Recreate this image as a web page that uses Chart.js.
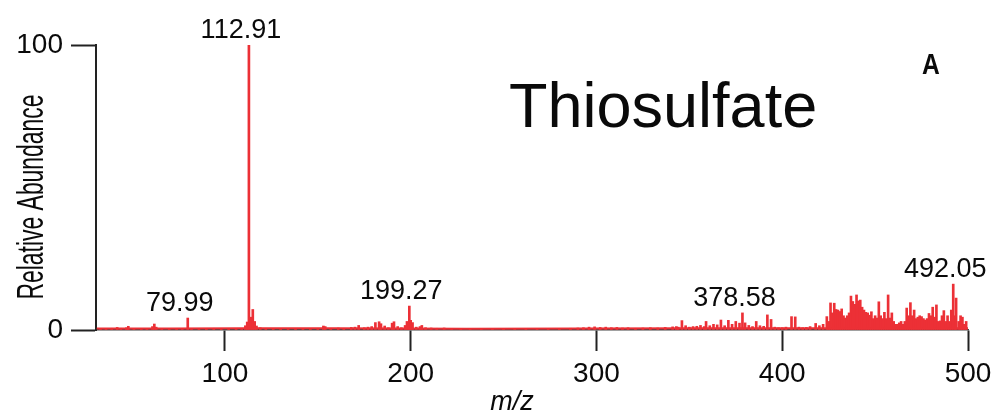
<!DOCTYPE html>
<html>
<head>
<meta charset="utf-8">
<script src="https://cdn.jsdelivr.net/npm/chart.js@4.4.1/dist/chart.umd.min.js"></script>
<style>
  html, body { margin: 0; padding: 0; background: #fff; }
  #wrap { width: 994px; height: 412px; position: relative; }
</style>
</head>
<body>
<div id="wrap"><canvas id="chart" aria-label="Thiosulfate mass spectrum" role="img"></canvas></div>
<script>
// m/z of each stick and its relative abundance
const peakMz = [
  33, 36, 39, 42, 44, 47, 48, 51, 55, 58, 61, 62, 63, 66, 70, 74, 77, 79.99, 82, 86, 90, 94, 98, 102, 106, 109,
  111, 112, 112.91, 114, 115, 116, 117, 119, 122,
  126, 130, 134, 138, 142, 146, 150, 153, 154, 157, 161, 164, 168, 170, 172, 175, 177, 179, 181, 183, 184, 186,
  188, 190, 191, 193, 195, 197, 198, 199.27, 200, 201, 203, 205, 206, 208, 211, 214, 218, 222, 227, 232, 238,
  244, 250, 256, 262, 268, 274, 280, 286, 290, 293, 296, 299, 302, 305, 308, 311, 314, 317, 321, 325, 329, 333,
  337, 341,
  343, 344, 346, 348, 350, 352, 354, 356, 358, 359, 361, 363, 365, 367, 369, 371, 373, 375, 377, 378.58, 380,
  382, 384, 386, 388, 390, 392, 394, 396, 398, 400, 402, 405, 407, 409, 411, 413, 415, 418, 420, 422, 424,
  425, 426, 427, 428, 429, 430, 431, 432, 433, 434, 435, 436, 437, 438, 439, 440, 441, 442, 443, 444, 445, 446,
  447, 448, 449, 450, 451, 452, 453, 454, 455, 456, 457, 458, 459, 460, 461, 462, 463, 464, 465, 466, 467, 468,
  469, 470, 471, 472, 473, 474, 475, 476, 477, 478, 479, 480, 481, 482, 483, 484, 485, 486, 487, 488, 489, 490,
  491, 492.05, 493, 493.6, 495, 496, 497, 498, 499,
];
const peakAbundance = [
  0.4, 0.5, 0.6, 0.9, 0.6, 0.8, 1.3, 0.5, 0.4, 0.5, 1.2, 2.1, 1.0, 0.5, 0.5, 0.4, 0.5, 4.2, 0.5, 0.4, 0.5, 0.6, 0.5, 0.4, 0.5, 0.6,
  1.5, 2.8, 100, 4.5, 7.2, 3.0, 1.4, 0.8, 0.6,
  0.5, 0.4, 0.5, 0.4, 0.5, 0.4, 0.6, 1.4, 1.2, 0.6, 0.7, 0.6, 0.9, 1.0, 1.6, 0.8, 1.0, 1.2, 2.6, 2.9, 2.2, 1.4,
  0.8, 2.4, 2.9, 1.2, 0.8, 1.6, 3.0, 8.4, 3.4, 2.6, 1.0, 1.2, 1.6, 0.8, 0.7, 0.6, 0.7, 0.5, 0.4, 0.4, 0.3,
  0.4, 0.3, 0.4, 0.3, 0.4, 0.4, 0.5, 0.6, 0.7, 0.8, 1.0, 1.1, 0.9, 1.0, 0.8, 0.9, 0.7, 0.8, 0.6, 0.7, 0.8, 0.7,
  0.9, 1.1,
  1.2, 1.0, 3.3, 1.5, 1.0, 1.2, 1.3, 1.6, 1.2, 3.0, 1.5, 2.0, 1.8, 3.5, 1.5, 3.4, 2.0, 3.0, 2.4, 6.0, 2.5,
  1.6, 1.2, 3.0, 1.5, 1.3, 5.3, 3.7, 1.0, 0.8, 0.8, 1.0, 4.7, 4.6, 1.0, 0.8, 0.9, 1.2, 2.3, 1.5, 2.0, 4.7,
  3.0, 9.5, 6.0, 9.4, 7.2, 7.0, 6.5, 7.4, 5.0, 4.2, 5.0, 6.0, 11.9, 10.0, 9.0, 12.3, 10.2, 10.5, 8.0, 7.0, 6.2, 6.0,
  5.2, 6.4, 4.0, 5.0, 4.2, 9.9, 5.0, 4.0, 6.2, 4.0, 12.3, 4.2, 6.0, 3.0, 2.0, 2.0, 2.5, 3.0, 2.0, 3.0, 7.7, 5.0,
  9.6, 5.0, 7.0, 4.0, 4.5, 5.0, 4.7, 4.0, 3.5, 4.0, 5.8, 5.0, 8.0, 4.5, 8.8, 3.0, 3.2, 5.0, 6.8, 3.0, 5.0, 3.0,
  7.0, 16.1, 5.0, 11.2, 3.0, 5.0, 4.5, 2.0, 3.0,
];
// low continuous background along the baseline
const noiseMz = [31, 70, 110, 160, 230, 290, 350, 420, 500];
const noiseAbundance = [0.5, 0.5, 0.6, 0.6, 0.4, 0.5, 0.6, 0.6, 0.6];

const labelledPeaks = [79.99, 112.91, 199.27, 378.58, 492.05];
const xTicks = [100, 200, 300, 400, 500];
const yTicks = [0, 100];
const xRange = [30.6, 500];
const yRange = [0, 100];

const chartTitle = 'Thiosulfate';
const panelLetter = 'A';
const xTitle = 'm/z';
const yTitle = 'Relative Abundance';

const FONT = '"Liberation Sans", Arial, Helvetica, sans-serif';
const RED = 'rgb(236, 48, 54)';
const INK = '#0a0a0a';

const annotate = {
  id: 'annotate',
  afterDraw(chart) {
    const { ctx, scales: { x, y } } = chart;
    ctx.save();
    ctx.fillStyle = INK;

    // peak labels
    ctx.font = `27px ${FONT}`;
    ctx.textAlign = 'center';
    ctx.textBaseline = 'alphabetic';
    labelledPeaks.forEach((mz) => {
      const v = peakAbundance[peakMz.indexOf(mz)];
      ctx.fillText(mz.toFixed(2), x.getPixelForValue(mz) - 8, y.getPixelForValue(v) - 7);
    });

    // big compound name + panel letter
    ctx.font = `63px ${FONT}`;
    ctx.textAlign = 'left';
    ctx.fillText(chartTitle, 509, 127);
    ctx.font = `bold 29px ${FONT}`;
    ctx.textAlign = 'center';
    ctx.save();
    ctx.translate(931, 74);
    ctx.scale(0.85, 1);
    ctx.fillText(panelLetter, 0, 0);
    ctx.restore();

    // x title (italic)
    ctx.font = `italic 27px ${FONT}`;
    ctx.fillText(xTitle, 512, 410);

    // y title, condensed
    ctx.font = `37px ${FONT}`;
    const w = ctx.measureText(yTitle).width;
    ctx.translate(43, 197);
    ctx.rotate(-Math.PI / 2);
    ctx.scale(205 / w, 1);
    ctx.textAlign = 'center';
    ctx.fillText(yTitle, 0, 0);
    ctx.restore();
  },
};

new Chart(document.getElementById('chart'), {
  type: 'bar',
  data: {
    datasets: [
      {
        type: 'line',
        data: noiseMz.map((mz, i) => ({ x: mz, y: noiseAbundance[i] })),
        borderColor: RED,
        borderWidth: 2,
        pointRadius: 0,
        tension: 0,
      },
      {
        data: peakMz.map((mz, i) => ({ x: mz, y: peakAbundance[i] })),
        backgroundColor: RED,
        barThickness: 2,
        grouped: false,
      },
    ],
  },
  options: {
    responsive: true,
    maintainAspectRatio: false,
    animation: false,
    layout: { padding: { top: 45, right: 26, left: 0, bottom: 0 } },
    plugins: { legend: { display: false }, tooltip: { enabled: false } },
    scales: {
      x: {
        type: 'linear',
        min: xRange[0],
        max: xRange[1],
        offset: false,
        afterBuildTicks: (scale) => { scale.ticks = xTicks.map((value) => ({ value })); },
        afterFit: (scale) => {
          scale.height = 82;
          scale.paddingLeft = 0;
          scale.paddingRight = 0;
        },
        grid: {
          offset: false, drawOnChartArea: false, drawTicks: true,
          tickLength: 21, tickWidth: 2, tickColor: '#222',
        },
        border: { display: true, color: '#444', width: 1.5 },
        ticks: { color: INK, font: { family: FONT, size: 28 }, padding: 6, maxRotation: 0 },
      },
      y: {
        min: yRange[0],
        max: yRange[1],
        afterBuildTicks: (scale) => { scale.ticks = yTicks.map((value) => ({ value })); },
        afterFit: (scale) => { scale.width = 96; },
        grid: { drawOnChartArea: false, drawTicks: true, tickLength: 25, tickWidth: 2, tickColor: '#222' },
        border: { display: true, color: '#222', width: 2 },
        ticks: { color: INK, font: { family: FONT, size: 28 }, padding: 8 },
      },
    },
  },
  plugins: [annotate],
});
</script>
</body>
</html>
